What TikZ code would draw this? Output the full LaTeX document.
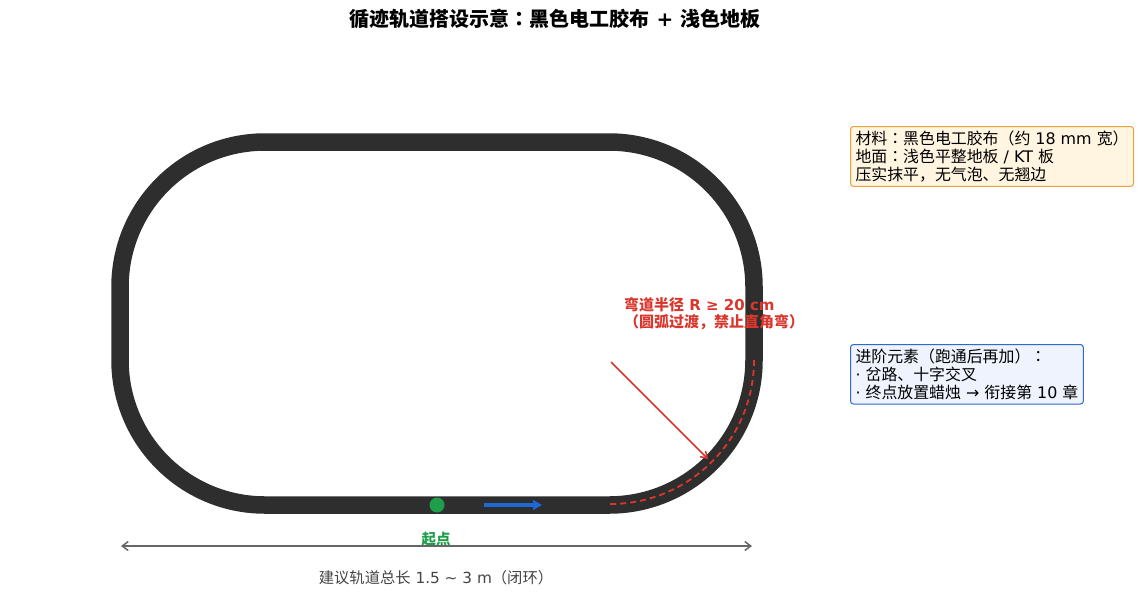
\documentclass[tikz,border=0pt]{standalone}
\usepackage{fontspec}
\setmainfont{DejaVu Sans}
\newfontfamily\zh{Noto Sans CJK SC}
\newfontfamily\zhjp{Noto Sans CJK JP}
\usetikzlibrary{arrows.meta}
\newcommand\Z[1]{{\zh #1}}
\newcommand\Colon{{\zhjp ：}}
\definecolor{trackc}{HTML}{2E2E2E}
\definecolor{startgreen}{HTML}{1E9E4A}
\definecolor{dirblue}{HTML}{1F68D6}
\definecolor{annred}{HTML}{D9372D}
\definecolor{dimgray}{HTML}{666666}
\definecolor{txtgray}{HTML}{444444}
\definecolor{notefill}{HTML}{FFF5E1}
\definecolor{notedraw}{HTML}{E8A23C}
\definecolor{advfill}{HTML}{EEF3FD}
\definecolor{advdraw}{HTML}{2E69CC}
\tikzset{
  txt/.style={font=\fontsize{15.3}{18}\selectfont},
  boxtxt/.style={font=\fontsize{15.9}{18.3}\selectfont},
  titletxt/.style={font=\fontsize{20}{24}\selectfont\bfseries},
  track/.style={draw=trackc, line width=17.5pt, rounded corners=145pt},
  notebox/.style={boxtxt, draw, line width=1pt, rounded corners=3pt, align=left, inner xsep=5pt, inner ysep=4pt, anchor=north west},
  dimarrow/.style={draw=dimgray, line width=1.5pt, {Straight Barb[length=6pt,width=9pt]}-{Straight Barb[length=6pt,width=9pt]}},
}
\begin{document}
\begin{tikzpicture}[x=1pt,y=-1pt, every node/.style={inner sep=0pt}]
\useasboundingbox (0,0) rectangle (1139,606);
\node[titletxt] (title) at (555,19) {\Z{循迹轨道搭设示意}\Colon\Z{黑色电工胶布} + \Z{浅色地板}};
% track
\draw[track] (120,142) rectangle (754,505);
% red dashed arc on bottom-right corner
\coordinate (arcA) at (754,360);
\coordinate (arcB) at (610,504);
\draw[annred, line width=1.8pt, dash pattern=on 6pt off 4pt] (arcA) arc[start angle=0, end angle=-90, radius=144pt];
% start point
\node[circle, fill=startgreen, minimum size=15pt] (start) at (437,505) {};
\coordinate (dir0) at (484,505);
\coordinate (dir1) at (542,505);
\draw[dirblue, line width=3.5pt, -{Stealth[length=9pt,width=10pt,inset=1pt]}] (dir0) -- (dir1);
\node[txt, font=\fontsize{14.5}{17}\selectfont\bfseries, text=startgreen] (startlbl) at (436,539) {\Z{起点}};
% dimension
\coordinate (dimL) at (121,546);
\coordinate (dimR) at (752,546);
\draw[dimarrow] (dimL) -- (dimR);
\node[txt, text=txtgray] (dimlbl) at (436,578) {\Z{建议轨道总长} 1.5 \char"007E{} 3 m\Z{（闭环）}};
% annotation
\node[txt, font=\fontsize{15}{17}\selectfont\bfseries, text=annred, align=left, anchor=west] (ann) at (624,314) {\Z{弯道半径} R ≥ 20 cm\\\Z{（圆弧过渡，禁止直角弯）}};
\coordinate (ann0) at (611,362);
\coordinate (ann1) at (708,459);
\draw[annred, line width=1.5pt, -{Straight Barb[length=6pt,width=8pt]}] (ann0) -- (ann1);
% note boxes
\node[notebox, draw=notedraw, fill=notefill] (material) at (850,126) {\Z{材料}\Colon\Z{黑色电工胶布（约} 18 mm \Z{宽）}\\\Z{地面}\Colon\Z{浅色平整地板} / KT \Z{板}\\\Z{压实抹平，无气泡、无翘边}};
\node[notebox, draw=advdraw, fill=advfill] (advanced) at (850,344) {\Z{进阶元素（跑通后再加）}\Colon\\· \Z{岔路、十字交叉}\\· \Z{终点放置蜡烛} → \Z{衔接第} 10 \Z{章}};
\end{tikzpicture}
\end{document}
